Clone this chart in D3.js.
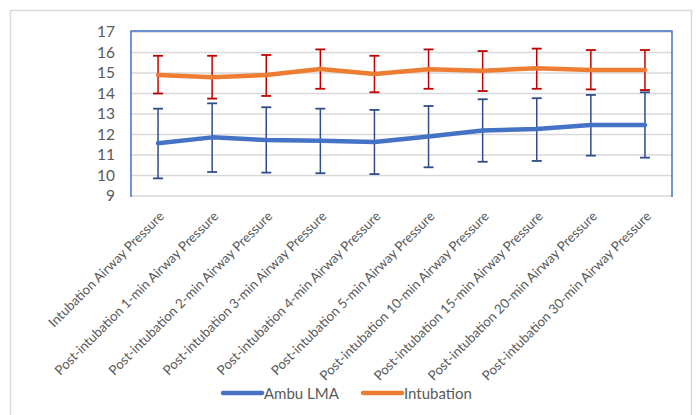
<!DOCTYPE html>
<html><head><meta charset="utf-8">
<script src="https://cdn.jsdelivr.net/npm/d3@7"></script>
<style>body{margin:0;background:#fff}svg{display:block}</style>
</head><body>
<svg id="chart" width="696" height="415"></svg>
<script>
const categories = ["Intubation Airway Pressure","Post-intubation 1-min Airway Pressure","Post-intubation 2-min Airway Pressure","Post-intubation 3-min Airway Pressure","Post-intubation 4-min Airway Pressure","Post-intubation 5-min Airway Pressure","Post-intubation 10-min Airway Pressure","Post-intubation 15-min Airway Pressure","Post-intubation 20-min Airway Pressure","Post-intubation 30-min Airway Pressure"];
const ambuMean = [11.57,11.86,11.73,11.70,11.63,11.90,12.19,12.27,12.46,12.46];
const ambuHigh = [13.26,13.52,13.33,13.26,13.20,13.39,13.72,13.77,13.93,14.06];
const ambuLow  = [9.86,10.17,10.14,10.11,10.07,10.40,10.67,10.71,10.97,10.87];
const intMean = [14.90,14.79,14.90,15.20,14.95,15.18,15.11,15.23,15.15,15.15];
const intHigh = [15.84,15.84,15.88,16.15,15.84,16.15,16.07,16.19,16.12,16.12];
const intLow  = [14.00,13.75,13.88,14.23,14.06,14.23,14.12,14.23,14.20,14.17];
const yTicks = [9,10,11,12,13,14,15,16,17];
const seriesNames = ["Ambu LMA","Intubation"];

const FONT = "Lato, 'Open Sans', sans-serif";
const svg = d3.select("#chart");
const L = 131, R = 672, T = 32, B = 196;
const x = d3.scaleBand().domain(categories).range([L, R]);
const y = d3.scaleLinear().domain([9,17]).range([B, T]);

// outer frame
svg.append("rect").attr("x",10.5).attr("y",10.5).attr("width",681).attr("height",420)
  .attr("fill","none").attr("stroke","#d9d9d9").attr("stroke-width",1.5);

// gridlines
svg.append("g").selectAll("line").data(yTicks).join("line")
  .attr("x1",L).attr("x2",R).attr("y1",d=>y(d)).attr("y2",d=>y(d))
  .attr("stroke","#d9d9d9").attr("stroke-width",1.5);

// plot frame (blue, left/top/right)
svg.append("path").attr("d",`M${L},${B+1}V${T-1}H${R}V${B+1}`)
  .attr("fill","none").attr("stroke","#4472c4").attr("stroke-width",1.5);

// y axis labels
const yAxis = d3.axisLeft(y).tickValues(yTicks).tickSize(0).tickPadding(16);
const gy = svg.append("g").attr("transform",`translate(${L},0)`).call(yAxis);
gy.select(".domain").remove();
gy.selectAll("text").attr("fill","#595959").style("font-family",FONT).style("font-size","15.5px");

// x labels
const xAxis = d3.axisBottom(x).tickSize(0);
const gx = svg.append("g").attr("transform",`translate(0,${B})`).call(xAxis);
gx.select(".domain").remove();
gx.selectAll("text")
  .attr("fill","#595959").style("font-family",FONT).style("font-size","13.3px")
  .attr("text-anchor","end").attr("dy",0).attr("y",0)
  .attr("transform","translate(7,21) rotate(-45)");

const cx = d => x(d) + x.bandwidth()/2;

function drawSeries(mean, hi, lo, lineColor, errColor){
  const g = svg.append("g");
  const cap = 5;
  categories.forEach((c,i)=>{
    const px = cx(c);
    g.append("line").attr("x1",px).attr("x2",px).attr("y1",y(hi[i])).attr("y2",y(lo[i])).attr("stroke",errColor).attr("stroke-width",1.5);
    g.append("line").attr("x1",px-cap).attr("x2",px+cap).attr("y1",y(hi[i])).attr("y2",y(hi[i])).attr("stroke",errColor).attr("stroke-width",1.8);
    g.append("line").attr("x1",px-cap).attr("x2",px+cap).attr("y1",y(lo[i])).attr("y2",y(lo[i])).attr("stroke",errColor).attr("stroke-width",1.8);
  });
  const line = d3.line().x((d,i)=>cx(categories[i])).y(d=>y(d));
  g.append("path").datum(mean).attr("d",line).attr("fill","none")
    .attr("stroke",lineColor).attr("stroke-width",4.5).attr("stroke-linejoin","round").attr("stroke-linecap","round");
}
drawSeries(ambuMean, ambuHigh, ambuLow, "#4472c4", "#2f4d8a");
drawSeries(intMean, intHigh, intLow, "#ed7d31", "#c00000");

// legend
const legend = [{name:seriesNames[0],color:"#4472c4",x:223},{name:seriesNames[1],color:"#ed7d31",x:363}];
const lg = svg.append("g");
legend.forEach(d=>{
  lg.append("line").attr("x1",d.x).attr("x2",d.x+39).attr("y1",393).attr("y2",393)
    .attr("stroke",d.color).attr("stroke-width",4.5).attr("stroke-linecap","round");
  lg.append("text").attr("x",d.x+41).attr("y",398.5).text(d.name)
    .attr("fill","#595959").style("font-family",FONT).style("font-size","15px");
});
</script>
</body></html>
